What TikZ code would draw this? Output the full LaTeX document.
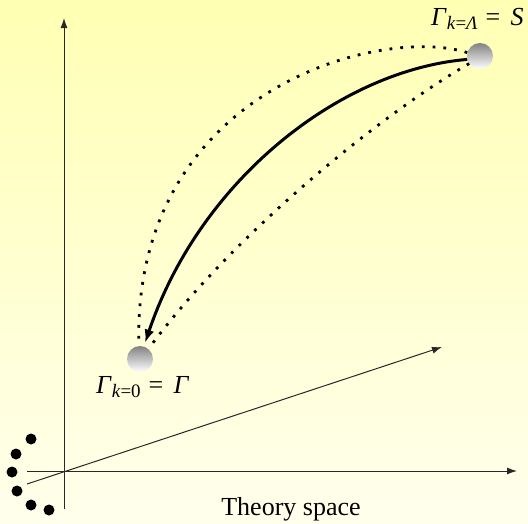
\documentclass[tikz,border=0pt]{standalone}
\usepackage{fontspec}
\setmainfont{Liberation Serif}
\usetikzlibrary{arrows.meta}
\definecolor{bgtop}{RGB}{255,255,180}
\definecolor{bgbot}{RGB}{255,255,236}
\definecolor{balltop}{RGB}{130,130,130}
\definecolor{axiscol}{RGB}{40,40,40}
\tikzset{
  ball/.style={circle, minimum size=26pt, inner sep=0pt, top color=balltop, bottom color=white, shading angle=0},
  blob/.style={circle, fill=black, minimum size=11pt, inner sep=0pt},
  axisline/.style={draw=axiscol, line width=1pt},
  axisarrow/.style={axisline, -{Latex[length=10pt,width=7pt]}},
  dotcurve/.style={line width=2.8pt, dash pattern=on 2.8pt off 8pt},
  flow/.style={line width=3pt, -{Latex[length=13pt,width=10pt]}},
  lab/.style={inner sep=0pt, anchor=base west, font=\fontsize{26}{30}\selectfont}
}
\newcommand{\subsc}[1]{\raisebox{-0.35ex}{\fontsize{19}{22}\selectfont #1}}
\begin{document}
\begin{tikzpicture}[x=1pt,y=-1pt]
\shade[top color=bgtop, bottom color=bgbot] (0,0) rectangle (528,523);
\useasboundingbox (0,0) rectangle (528,523);
% axes
\coordinate (o) at (64,471);
\coordinate (vbot) at (64,509);
\coordinate (vtop) at (64,18);
\coordinate (hl) at (27,471);
\coordinate (hr) at (517,471);
\coordinate (dl) at (27,484);
\coordinate (dr) at (442,347);
\draw[axisline] (vbot) -- (o);
\draw[axisarrow] (o) -- (vtop);
\draw[axisarrow] (hl) -- (hr);
\draw[axisarrow] (dl) -- (dr);
% dots
\node[blob] (d1) at (31,439) {};
\node[blob] (d2) at (16,454) {};
\node[blob] (d3) at (12,472) {};
\node[blob] (d4) at (17,491) {};
\node[blob] (d5) at (31,505) {};
\node[blob] (d6) at (49,510) {};
% balls
\node[ball] (top) at (480,56) {};
\node[ball] (bot) at (140,359) {};
% curves
\draw[dotcurve] (top.165) .. controls (380,25) and (132,90) .. (bot.95);
\draw[dotcurve, shorten >=3pt] (top.215) .. controls (380,115) and (232,236) .. (bot.50);
\draw[flow, shorten >=4pt] (top.195) .. controls (340,70) and (200,180) .. (bot.73);
% labels
\node[lab] (ltop) at (431,25) {\textit{Γ}\subsc{\textit{k}=\textit{Λ}}\hspace{0.3em}=\hspace{0.4em}\textit{S}};
\node[lab] (lbot) at (96,393) {\textit{Γ}\subsc{\textit{k}=0}\hspace{0.3em}=\hspace{0.4em}\textit{Γ}};
\node[inner sep=0pt, anchor=base, font=\fontsize{26}{30}\selectfont] (ts) at (291,515) {Theory space};
\end{tikzpicture}
\end{document}
